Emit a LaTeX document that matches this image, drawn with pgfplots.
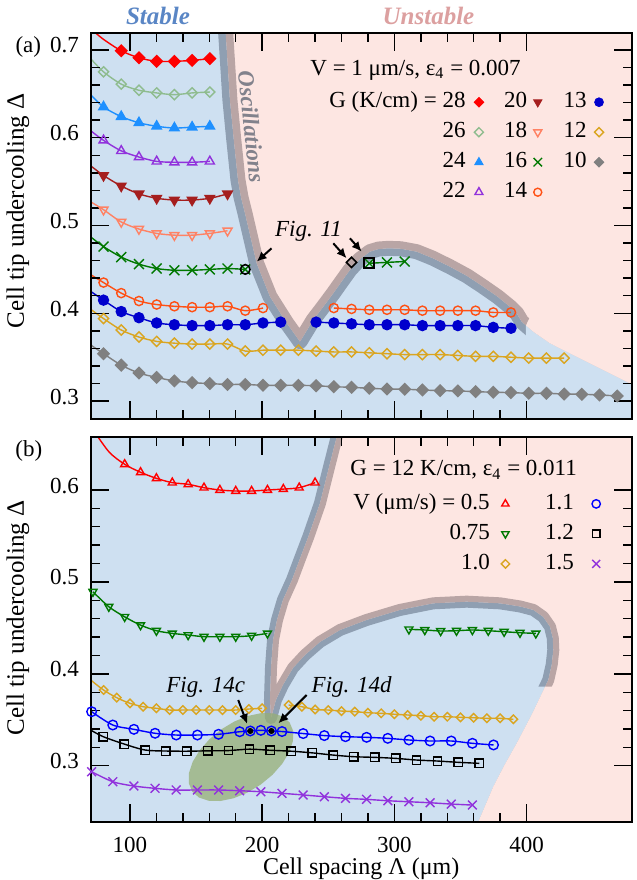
\documentclass[border=0pt]{standalone}
\usepackage{pgfplots}
\pgfplotsset{compat=1.18}
\usepackage{fontspec}
\setmainfont{Liberation Serif}
\usetikzlibrary{arrows.meta}

\definecolor{stab}{RGB}{206,224,241}
\definecolor{unst}{RGB}{253,230,226}
\definecolor{bandB}{RGB}{143,159,178}
\definecolor{bandP}{RGB}{185,165,165}
\definecolor{ellg}{RGB}{151,175,118}
\definecolor{c28}{RGB}{255,0,0}
\definecolor{c26}{RGB}{143,188,143}
\definecolor{c24}{RGB}{30,144,255}
\definecolor{c22}{RGB}{145,50,220}
\definecolor{c20}{RGB}{165,30,30}
\definecolor{c18}{RGB}{255,130,100}
\definecolor{c16}{RGB}{0,120,0}
\definecolor{c14}{RGB}{255,80,20}
\definecolor{c13}{RGB}{0,0,205}
\definecolor{c12}{RGB}{218,165,32}
\definecolor{c10}{RGB}{128,128,128}
\definecolor{vb}{RGB}{0,0,255}
\definecolor{stabtxt}{RGB}{90,134,197}
\definecolor{unsttxt}{RGB}{220,160,160}
\definecolor{osc}{RGB}{130,130,140}

\newcommand{\fs}{\fontsize{11.5}{13}\selectfont}

\pgfplotsset{
  panel/.style={
    scale only axis, width=270.5pt, xmin=70.3, xmax=479.5,
    axis on top,
    axis background/.style={fill=unst},
    axis line style={line width=0.9pt},
    tick style={line width=0.7pt, black},
    tick align=inside,
    major tick length=9pt, minor tick length=4.5pt,
    xtick={100,200,300,400}, minor x tick num=4, minor y tick num=4,
    /pgf/number format/assume math mode=true,
    tick label style={font=\fs},
    yticklabel style={/pgf/number format/fixed, /pgf/number format/fixed zerofill, /pgf/number format/precision=1, yshift=2.2pt},
    xticklabel style={inner sep=0pt},
    xticklabel shift=7.8pt, yticklabel shift=2.4pt,
    label style={font=\fontsize{12.5}{14}\selectfont},
    legend image code/.code={\draw[#1] plot coordinates {(0pt,0pt)};},
    legend style={draw=none, fill=none, inner sep=0pt, outer sep=0pt,
       nodes={inner sep=0pt, text height=8pt, text depth=2.4pt, font=\fs}, row sep=4.6pt},
    legend plot pos=right, legend cell align=right,
  },
  dl/.style={line width=0.7pt, smooth, mark options={solid, line width=0.7pt}},
  region/.style={draw=none, mark=none, forget plot},
  innerB/.style={postaction={clip, postaction={draw=bandB, line width=#1, line join=round}}},
  innerP/.style={postaction={clip, postaction={draw=bandP, line width=#1, line join=round}}},
  arr/.style={black, line width=1pt, -{Latex[length=5pt,width=4.5pt]}, forget plot, mark=none},
}

\begin{document}
\begin{tikzpicture}
\useasboundingbox (0,0) rectangle (318.5pt,440pt);

%================ PANEL (a) =================
\begin{axis}[panel, at={(45.35pt,230.35pt)}, anchor=south west, height=193pt,
  ymin=0.2793, ymax=0.7189, ytick={0.3,0.4,0.5,0.6,0.7}, xticklabels={},
  ylabel={Cell tip undercooling Δ},
  ylabel style={at={(axis description cs:-0.1345,0.54)}, anchor=center},
  legend columns=3,
  legend style={at={(0.441,0.8484)}, anchor=north west,
     /tikz/column 1/.style={column sep=4.3pt}, /tikz/column 2/.style={column sep=10.2pt},
     /tikz/column 3/.style={column sep=3.2pt}, /tikz/column 4/.style={column sep=10.8pt},
     /tikz/column 5/.style={column sep=3.8pt}},
]
% stable region with blue-grey half band
\addplot[region, fill=stab, innerB=7.5pt] coordinates {
 (171.5,0.745) (172.4,0.7189) (175.6,0.643) (178.5,0.598) (181.7,0.5517) (184,0.532) (187,0.514) (195.8,0.457) (205.9,0.419) (218.5,0.389) (228.6,0.3677)
 (238.6,0.3924) (246,0.407) (253.8,0.4228) (260,0.436) (266.4,0.4494) (273.5,0.4610) (281.5,0.4702) (288,0.4732) (295.4,0.474) (305,0.4735) (316.8,0.4702) (329,0.4628) (342,0.4531) (355,0.4425) (367.2,0.4303) (378,0.419) (387.4,0.4075) (392.5,0.400) (396.3,0.3904)
 (405.1,0.379) (417.7,0.3658) (430.3,0.3562) (442.9,0.3467) (455.5,0.3372) (468.2,0.3277) (478.2,0.3201) (495,0.307)
 (495,0.26) (60,0.26) (60,0.745) (171.5,0.745)};
% unstable side half band
\addplot[region, fill=none, innerP=7.5pt] coordinates {
 (171.5,0.745) (172.4,0.7189) (175.6,0.643) (178.5,0.598) (181.7,0.5517) (184,0.532) (187,0.514) (195.8,0.457) (205.9,0.419) (218.5,0.389) (228.6,0.3677)
 (238.6,0.3924) (246,0.407) (253.8,0.4228) (260,0.436) (266.4,0.4494) (273.5,0.4610) (281.5,0.4702) (288,0.4732) (295.4,0.474) (305,0.4735) (316.8,0.4702) (329,0.4628) (342,0.4531) (355,0.4425) (367.2,0.4303) (378,0.419) (387.4,0.4075) (392.5,0.400) (396.3,0.3904)
 (405.1,0.379) (417.7,0.3658) (430.3,0.3562) (442.9,0.3467) (455.5,0.3372) (468.2,0.3277) (478.2,0.3201) (495,0.307)
 (495,0.745) (171.5,0.745)};
% soft edge covers
\addplot[region, fill=stab] coordinates {(399.5,0.3862) (405.1,0.379) (417.7,0.3658) (430.3,0.3562) (442.9,0.3467) (455.5,0.3372) (468.2,0.3277) (478.2,0.3201) (495,0.307) (495,0.26) (399.5,0.26) (399.5,0.3862)};
\addplot[region, fill=unst] coordinates {(399.5,0.3862) (405.1,0.379) (417.7,0.3658) (430.3,0.3562) (442.9,0.3467) (455.5,0.3372) (468.2,0.3277) (478.2,0.3201) (495,0.307) (495,0.40) (404,0.40) (399.5,0.3862)};

% ---- data ----
\addplot[dl, c28, mark=square*, mark size=2pt, mark options={rotate=45, fill=c28}, mark indices={2,...,8}, forget plot] coordinates {
 (70.3,0.724) (80,0.712) (93.4,0.699) (106.8,0.691) (120.2,0.687) (133.6,0.687) (147,0.688) (160.4,0.690)};
\addplot[dl, c26, mark=square, mark size=1.8pt, mark options={rotate=45}, mark indices={2,...,8}, forget plot] coordinates {
 (70.3,0.690) (80,0.675) (93.4,0.661) (106.8,0.654) (120.2,0.651) (133.6,0.649) (147,0.651) (160.4,0.652)};
\addplot[dl, c24, mark=triangle*, mark size=2.7pt, mark options={fill=c24}, mark indices={2,...,8}, forget plot] coordinates {
 (70.3,0.649) (80,0.635) (93.4,0.624) (106.8,0.617) (120.2,0.613) (133.6,0.611) (147,0.612) (160.4,0.613)};
\addplot[dl, c22, mark=triangle, mark size=2.6pt, mark indices={2,...,8}, forget plot] coordinates {
 (70.3,0.608) (80,0.597) (93.4,0.585) (106.8,0.578) (120.2,0.573) (133.6,0.572) (147,0.572) (160.4,0.573)};
\addplot[dl, c20, mark=triangle*, mark size=2.7pt, mark options={rotate=180, fill=c20}, mark indices={2,...,9}, forget plot] coordinates {
 (70.3,0.568) (80,0.557) (93.4,0.545) (106.8,0.536) (120.2,0.531) (133.6,0.529) (147,0.529) (160.4,0.531) (173.8,0.536)};
\addplot[dl, c18, mark=triangle, mark size=2.6pt, mark options={rotate=180}, mark indices={2,...,9}, forget plot] coordinates {
 (70.3,0.527) (80,0.518) (93.4,0.504) (106.8,0.496) (120.2,0.491) (133.6,0.489) (147,0.489) (160.4,0.491) (173.8,0.494)};
\addplot[dl, c16, mark=x, mark size=3.5pt, mark indices={2,...,11}, forget plot] coordinates {
 (70.3,0.487) (80,0.476) (93.4,0.464) (106.8,0.456) (120.2,0.451) (133.6,0.449) (147,0.449) (160.4,0.450) (173.8,0.451) (187.2,0.450)};
\addplot[dl, c16, mark=x, mark size=3.5pt, forget plot] coordinates {(281,0.457) (294.4,0.458) (307.8,0.459)};
\addplot[dl, c14, mark=o, mark size=2.3pt, mark indices={2,...,12}, forget plot] coordinates {
 (70.3,0.444) (80,0.435) (93.4,0.423) (106.8,0.414) (120.2,0.410) (133.6,0.408) (147,0.407) (160.4,0.407) (173.8,0.408) (187.2,0.403) (200.6,0.406)};
\addplot[dl, c14, mark=o, mark size=2.3pt, forget plot] coordinates {
 (254.2,0.406) (267.6,0.405) (281,0.404) (294.4,0.404) (307.8,0.404) (321.2,0.403) (334.6,0.403) (348,0.403) (361.4,0.403) (374.8,0.401) (388.2,0.401)};
\addplot[dl, c13, mark=*, mark size=2.5pt, mark options={fill=c13}, mark indices={2,...,13}, forget plot] coordinates {
 (70.3,0.425) (80,0.415) (93.4,0.402) (106.8,0.395) (120.2,0.389) (133.6,0.387) (147,0.386) (160.4,0.386) (173.8,0.387) (187.2,0.387) (200.6,0.389) (214,0.390)};
\addplot[dl, c13, mark=*, mark size=2.5pt, mark options={fill=c13}, forget plot] coordinates {
 (240.8,0.390) (254.2,0.389) (267.6,0.388) (281,0.387) (294.4,0.387) (307.8,0.387) (321.2,0.386) (334.6,0.386) (348,0.386) (361.4,0.386) (374.8,0.384) (388.2,0.383)};
\addplot[dl, c12, mark=square, mark size=1.8pt, mark options={rotate=45}, mark indices={2,...,28}, forget plot] coordinates {
 (70.3,0.4046) (80,0.394) (93.4,0.381) (106.8,0.373) (120.2,0.368) (133.6,0.366) (147,0.365) (160.4,0.365) (173.8,0.365) (187.2,0.357) (200.6,0.358) (214,0.358) (227.4,0.358) (240.8,0.357) (254.2,0.356) (267.6,0.356) (281,0.355) (294.4,0.354) (307.8,0.353) (321.2,0.353) (334.6,0.353) (348,0.352) (361.4,0.351) (374.8,0.351) (388.2,0.350) (401.6,0.349) (415,0.349) (428.4,0.349)};
\addplot[dl, c10, mark=square*, mark size=2pt, mark options={rotate=45, fill=c10}, mark indices={2,...,31}, forget plot] coordinates {
 (70.3,0.364) (80,0.354) (93.4,0.341) (106.8,0.332) (120.2,0.327) (133.6,0.323) (147,0.321) (160.4,0.320) (173.8,0.319) (187.2,0.319) (200.6,0.318) (214,0.318) (227.4,0.318) (240.8,0.3175) (254.2,0.3164) (267.6,0.3157) (281,0.3146) (294.4,0.3138) (307.8,0.3135) (321.2,0.3127) (334.6,0.3119) (348,0.3116) (361.4,0.3108) (374.8,0.3101) (388.2,0.3097) (401.6,0.3089) (415,0.3089) (428.4,0.3081) (441.8,0.3078) (455.2,0.307) (468.6,0.3059)};
% Fig. 11 states
\addplot[only marks, black, mark=o, mark size=2.4pt, mark options={line width=0.8pt}, forget plot] coordinates {(187.2,0.450)};
\addplot[only marks, black, mark=square, mark size=2.5pt, mark options={line width=0.8pt}, forget plot] coordinates {(281,0.457)};
\addplot[only marks, black, mark=square, mark size=1.8pt, mark options={rotate=45, line width=0.8pt}, forget plot] coordinates {(267.6,0.458)};
\addplot[arr] coordinates {(207.1,0.474) (195.8,0.4588)};
\addplot[arr] coordinates {(253.8,0.4797) (263.9,0.4626)};
\addplot[arr] coordinates {(266.4,0.4854) (275.3,0.4702)};
\node[font=\itshape\fs] at (axis cs:235,0.493) {Fig. 11};
\node[rotate=-84, text=osc, font=\bfseries\itshape\fontsize{11.5}{13}\selectfont] at (axis cs:192,0.6125) {Oscillations};

% legend
\addlegendimage{mark=square*, mark size=1.7pt, c28, mark options={rotate=45, fill=c28}}
\addlegendentry{G (K/cm) = 28}
\addlegendimage{mark=triangle*, mark size=2.4pt, c20, mark options={rotate=180, fill=c20}}
\addlegendentry{20}
\addlegendimage{mark=*, mark size=2.2pt, c13, mark options={fill=c13}}
\addlegendentry{13}
\addlegendimage{mark=square, mark size=1.6pt, c26, mark options={rotate=45, line width=0.7pt}}
\addlegendentry{26}
\addlegendimage{mark=triangle, mark size=2.3pt, c18, mark options={rotate=180, line width=0.7pt}}
\addlegendentry{18}
\addlegendimage{mark=square, mark size=1.6pt, c12, mark options={rotate=45, line width=0.7pt}}
\addlegendentry{12}
\addlegendimage{mark=triangle*, mark size=2.4pt, c24, mark options={fill=c24}}
\addlegendentry{24}
\addlegendimage{mark=x, mark size=3pt, c16, mark options={line width=0.7pt}}
\addlegendentry{16}
\addlegendimage{mark=square*, mark size=1.7pt, c10, mark options={rotate=45, fill=c10}}
\addlegendentry{10}
\addlegendimage{mark=triangle, mark size=2.3pt, c22, mark options={line width=0.7pt}}
\addlegendentry{22}
\addlegendimage{mark=o, mark size=2pt, c14, mark options={line width=0.7pt}}
\addlegendentry{14}
\end{axis}

%================ PANEL (b) =================
\begin{axis}[panel, at={(45.35pt,29.15pt)}, anchor=south west, height=192.5pt,
  ymin=0.2391, ymax=0.658, ytick={0.3,0.4,0.5,0.6},
  xlabel={Cell spacing Λ (μm)},
  xlabel style={at={(axis description cs:0.5,-0.1216)}, anchor=center, inner sep=0pt, font=\fontsize{12}{14}\selectfont},
  ylabel={Cell tip undercooling Δ},
  ylabel style={at={(axis description cs:-0.1345,0.53)}, anchor=center},
  legend columns=2,
  legend style={at={(0.4854,0.8525)}, anchor=north west,
     /tikz/column 1/.style={column sep=5.7pt}, /tikz/column 2/.style={column sep=17.8pt},
     /tikz/column 3/.style={column sep=9pt}},
]
\addplot[region, fill=stab, innerB=6pt] coordinates {
 (258.3,0.68) (256.4,0.658) (250,0.6218) (243.7,0.5855) (234.9,0.5492) (228.5,0.525) (222.5,0.502) (215.7,0.4803) (211.2,0.4585) (208.2,0.4368) (206.7,0.4074) (205.9,0.3715) (206.7,0.3519)
 (210.4,0.3715) (215.7,0.3878) (223.3,0.4063) (232.4,0.4205) (243.7,0.4346) (258.9,0.4477) (279,0.4586) (304.2,0.4695) (329.4,0.4767) (354.7,0.4785) (379.9,0.4767) (395,0.4733) (405.1,0.4695) (412.5,0.462) (417.7,0.4513) (419.8,0.439) (420.2,0.4259) (419,0.41) (416.4,0.3933)
 (404,0.356) (392.5,0.3244) (383,0.30) (374.8,0.2772) (363.5,0.2391) (355,0.21)
 (60,0.21) (60,0.68) (258.3,0.68)};
\addplot[region, fill=none, innerP=6pt] coordinates {
 (258.3,0.68) (256.4,0.658) (250,0.6218) (243.7,0.5855) (234.9,0.5492) (228.5,0.525) (222.5,0.502) (215.7,0.4803) (211.2,0.4585) (208.2,0.4368) (206.7,0.4074) (205.9,0.3715) (206.7,0.3519)
 (210.4,0.3715) (215.7,0.3878) (223.3,0.4063) (232.4,0.4205) (243.7,0.4346) (258.9,0.4477) (279,0.4586) (304.2,0.4695) (329.4,0.4767) (354.7,0.4785) (379.9,0.4767) (395,0.4733) (405.1,0.4695) (412.5,0.462) (417.7,0.4513) (419.8,0.439) (420.2,0.4259) (419,0.41) (416.4,0.3933)
 (404,0.356) (392.5,0.3244) (383,0.30) (374.8,0.2772) (363.5,0.2391) (355,0.21)
 (495,0.21) (495,0.68) (258.3,0.68)};
\addplot[region, fill=stab] coordinates {(414,0.386) (404,0.356) (392.5,0.3244) (383,0.30) (374.8,0.2772) (363.5,0.2391) (355,0.21) (320,0.21) (320,0.386) (414,0.386)};
\addplot[region, fill=unst] coordinates {(414,0.386) (404,0.356) (392.5,0.3244) (383,0.30) (374.8,0.2772) (363.5,0.2391) (355,0.21) (495,0.21) (495,0.386) (414,0.386)};
% green ellipse
\addplot[region, fill=ellg, fill opacity=0.75] coordinates {
 (220.8,0.3470) (223.4,0.3380) (223.3,0.3269) (220.5,0.3147) (215.2,0.3022) (207.8,0.2901) (198.8,0.2794) (188.7,0.2707) (178.4,0.2646) (168.4,0.2616) (159.5,0.2619) (152.2,0.2654) (147.1,0.2719) (144.5,0.2810) (144.6,0.2920) (147.4,0.3042) (152.7,0.3167) (160.1,0.3288) (169.1,0.3396) (179.2,0.3483) (189.6,0.3543) (199.5,0.3573) (208.5,0.3570) (215.7,0.3535) (220.8,0.3470)};

% ---- data ----
\addplot[dl, red, mark=triangle, mark size=2.3pt, mark indices={2,...,15}, forget plot] coordinates {
 (71,0.668) (84,0.6417) (96,0.628) (108,0.6193) (120,0.6127) (132,0.608) (144,0.6062) (156,0.6025) (168,0.600) (180,0.5989) (192,0.5989) (204,0.600) (216,0.601) (228,0.6025) (240,0.608)};
\addplot[dl, c16, mark=triangle, mark size=2.3pt, mark options={rotate=180}, forget plot] coordinates {
 (72,0.4893) (84,0.473) (96,0.462) (108,0.453) (120,0.4469) (132,0.444) (144,0.4422) (156,0.4404) (168,0.4404) (180,0.4404) (192,0.4415) (204,0.444)};
\addplot[dl, c16, mark=triangle, mark size=2.3pt, mark options={rotate=180}, forget plot] coordinates {
 (311,0.4484) (323,0.4477) (335,0.4466) (347,0.4469) (359,0.4477) (371,0.4469) (383,0.4458) (395,0.4447) (407,0.444)};
\addplot[dl, c12, mark=square, mark size=1.5pt, mark options={rotate=45}, mark indices={2,...,14}, forget plot] coordinates {
 (70.3,0.3933) (80,0.3824) (90,0.374) (100,0.3679) (110,0.3642) (120,0.3625) (130,0.3606) (140,0.3606) (150,0.3606) (160,0.3606) (170,0.3606) (180,0.3606) (190,0.3617) (200,0.3625)};
\addplot[dl, c12, mark=square, mark size=1.5pt, mark options={rotate=45}, forget plot] coordinates {
 (220,0.366) (230,0.3642) (240,0.3612) (250,0.3606) (260,0.3595) (270,0.3588) (280,0.3577) (290,0.357) (300,0.356) (310,0.3552) (320,0.3544) (330,0.3533) (340,0.3533) (350,0.3527) (360,0.3522) (370,0.3516) (380,0.3516) (390,0.3505)};
\addplot[dl, vb, mark=o, mark size=2.4pt, forget plot] coordinates {
 (71,0.3588) (87,0.3443) (103,0.3396) (119,0.3353) (135,0.3334) (151,0.3334) (167,0.3342) (183,0.337) (191,0.3378) (199,0.3385) (207,0.3378) (215,0.3372) (231,0.335) (247,0.3328) (263,0.3316) (279,0.3309) (295,0.3298) (311,0.328) (327,0.3269) (343,0.3269) (359,0.3244) (375,0.3226)};
\addplot[dl, black, mark=square, mark size=2.1pt, mark indices={2,...,20}, forget plot] coordinates {
 (70.3,0.3388) (79.8,0.3316) (95.6,0.3236) (111.4,0.3171) (127.2,0.316) (143,0.3158) (158.8,0.3162) (174.6,0.3165) (190.4,0.318) (206.2,0.3168) (222,0.3158) (237.8,0.314) (253.6,0.3116) (269.4,0.3098) (285.2,0.3091) (301,0.308) (316.8,0.3062) (332.6,0.3051) (348.4,0.3037) (364.2,0.3026)};
\addplot[dl, c22, mark=x, mark size=3.1pt, forget plot] coordinates {
 (71,0.2935) (87,0.2826) (103,0.2779) (119,0.2754) (135,0.2736) (151,0.2736) (167,0.2736) (183,0.2728) (199,0.2717) (215,0.27) (231,0.2682) (247,0.2663) (263,0.2645) (279,0.2634) (295,0.2619) (311,0.2608) (327,0.2597) (343,0.2583) (359,0.2572)};
\addplot[only marks, black, mark=*, mark size=1.3pt, forget plot] coordinates {(191,0.3378) (207,0.3378)};
\addplot[arr] coordinates {(181.9,0.3715) (188.7,0.3454)};
\addplot[arr] coordinates {(233.6,0.3769) (212.2,0.3461)};
\node[font=\itshape\fs] at (axis cs:157.3,0.3853) {Fig. 14c};
\node[font=\itshape\fs] at (axis cs:267.7,0.3853) {Fig. 14d};

\addlegendimage{mark=triangle, mark size=2.1pt, red, mark options={line width=0.7pt}}
\addlegendentry{V (μm/s) = 0.5}
\addlegendimage{mark=o, mark size=2.1pt, vb, mark options={line width=0.7pt}}
\addlegendentry{1.1}
\addlegendimage{mark=triangle, mark size=2.1pt, c16, mark options={rotate=180, line width=0.7pt}}
\addlegendentry{0.75}
\addlegendimage{mark=square, mark size=1.9pt, black, mark options={line width=0.7pt}}
\addlegendentry{1.2}
\addlegendimage{mark=square, mark size=1.5pt, c12, mark options={rotate=45, line width=0.7pt}}
\addlegendentry{1.0}
\addlegendimage{mark=x, mark size=2.8pt, c22, mark options={line width=0.7pt}}
\addlegendentry{1.5}
\end{axis}

% titles and labels outside the axes
\node[font=\bfseries\itshape\fontsize{12.5}{14}\selectfont, text=stabtxt] at (79pt,432pt) {Stable};
\node[font=\bfseries\itshape\fontsize{12.5}{14}\selectfont, text=unsttxt] at (214.25pt,432pt) {Unstable};
\node[font=\fs] at (14.15pt,416.65pt) {(a)};
\node[font=\fs] at (14.4pt,214.5pt) {(b)};
\node[anchor=west, inner sep=0pt, font=\fs] at (155pt,405pt) {V = 1 μm/s, ε\textsubscript{4} = 0.007};
\node[anchor=west, inner sep=0pt, font=\fs] at (175pt,205pt) {G = 12 K/cm, ε\textsubscript{4} = 0.011};
\end{tikzpicture}
\end{document}
